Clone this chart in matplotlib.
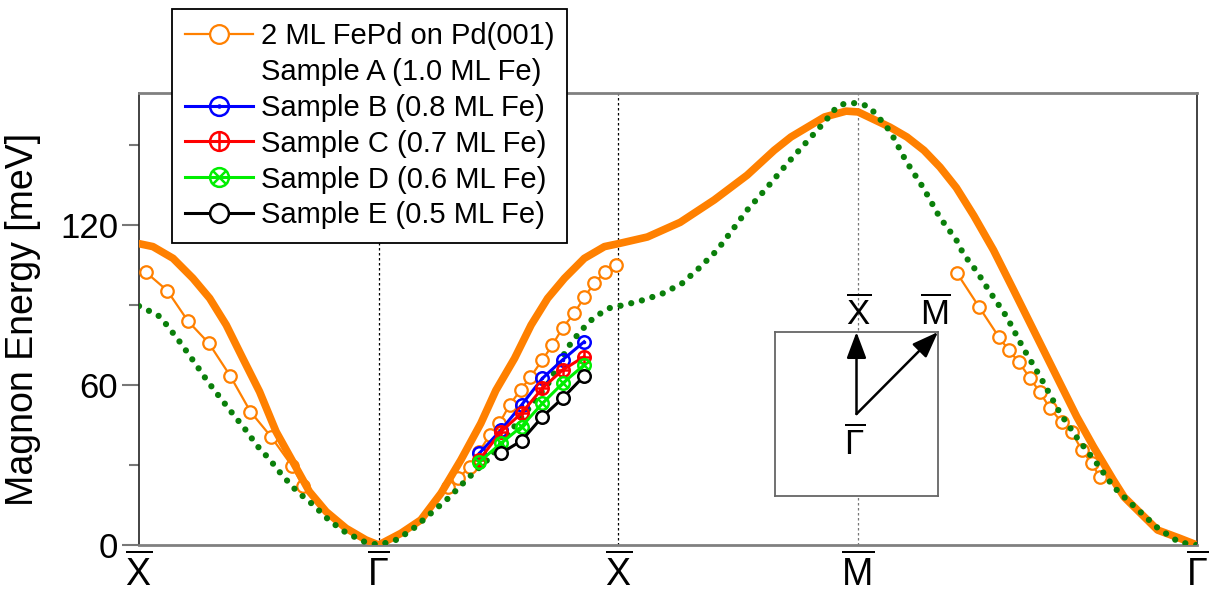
import numpy as np
import matplotlib.pyplot as plt
from matplotlib.lines import Line2D
from matplotlib.legend_handler import HandlerTuple

plt.rcParams['font.family'] = ['Liberation Sans', 'DejaVu Sans']
plt.rcParams['mathtext.fontset'] = 'custom'
plt.rcParams['mathtext.rm'] = 'Liberation Sans'
plt.rcParams['mathtext.it'] = 'Liberation Sans:italic'

# path X - Gamma - X - M - Gamma (distance in units of Gamma-X)
sym_pos = [-1, 0, 1, 2, 2 + np.sqrt(2)]
sym_labels = [r'$\overline{\mathrm{X}}$', r'$\overline{\mathrm{\Gamma}}$',
              r'$\overline{\mathrm{X}}$', r'$\overline{\mathrm{M}}$',
              r'$\overline{\mathrm{\Gamma}}$']

# theory, thick orange line
theo_k = [-1.0, -0.942, -0.858, -0.775, -0.705, -0.636, -0.567, -0.497, -0.428,
          -0.358, -0.289, -0.219, -0.136, -0.053, 0.0,
          0.093, 0.176, 0.26, 0.343, 0.426, 0.489, 0.567, 0.636, 0.705, 0.775,
          0.858, 0.942, 1.0,
          1.121, 1.258, 1.4, 1.5375, 1.65, 1.72, 1.86, 1.95, 2.0,
          2.133, 2.204, 2.275, 2.342, 2.41, 2.483, 2.565, 2.649, 2.746, 2.843,
          2.9125, 2.982, 3.065, 3.11, 3.25, 3.34, 3.414]
theo_E = [113.0, 111.9, 107.5, 100.0, 92.5, 82.5, 70.0, 57.5, 42.5,
          31.2, 20.0, 12.5, 6.25, 1.9, 0.0,
          4.4, 9.4, 19.4, 31.9, 45.6, 58.0, 70.0, 82.5, 92.5, 100.0,
          107.5, 111.9, 113.0,
          115.5, 121.0, 129.4, 138.7, 148.0, 153.0, 160.5, 162.7, 162.4,
          156.7, 153.0, 148.0, 141.7, 134.0, 123.5, 110.6, 95.6, 78.1, 60.6,
          48.1, 36.9, 24.4, 18.0, 5.6, 2.6, 0.0]

# second calculation, green dotted line
calc_k = [-1.0, -0.921, -0.886, -0.8375, -0.81, -0.761, -0.7125, -0.661, -0.608,
          -0.557, -0.507, -0.455, -0.403, -0.342, -0.275, -0.205, -0.136, -0.06, 0.0,
          0.079, 0.149, 0.218, 0.295, 0.371, 0.455, 0.507, 0.557, 0.608, 0.661,
          0.7125, 0.7875, 0.84, 0.9, 0.967, 1.025,
          1.11, 1.19, 1.267, 1.3375, 1.4125, 1.483, 1.5375, 1.62, 1.704, 1.86,
          1.9125, 1.95, 2.0, 2.045, 2.08, 2.135, 2.2, 2.274, 2.34, 2.41, 2.44,
          2.496, 2.545, 2.62, 2.69, 2.76, 2.843, 2.92, 2.996, 3.065, 3.11, 3.25,
          3.34, 3.414]
calc_E = [89.6, 86.2, 82.7, 77.1, 73.7, 67.5, 61.2, 55.2, 49.1,
          43.4, 37.2, 32.1, 26.2, 20.2, 15.2, 9.1, 4.6, 1.25, 0.0,
          2.1, 6.5, 11.9, 17.9, 24.9, 32.0, 37.5, 43.4, 49.1, 55.2,
          61.2, 73.9, 80.0, 85.5, 89.0, 90.0,
          92.0, 94.5, 98.2, 103.9, 110.6, 119.0, 125.6, 134.0, 143.0, 158.6,
          164.4, 165.7, 165.7, 164.4, 161.0, 155.0, 144.0, 133.7, 123.0, 114.4, 109.1,
          102.5, 95.6, 85.6, 73.7, 63.1, 49.4, 39.4, 30.6, 21.9, 18.0, 6.4,
          1.0, 0.0]

# 2 ML FePd on Pd(001), measured
fepd_k1 = [-0.970, -0.882, -0.796, -0.708, -0.620, -0.535, -0.449, -0.361, -0.317]
fepd_E1 = [102.2, 95.4, 84.0, 75.6, 63.5, 50.0, 40.6, 29.6, 22.2]
fepd_k2 = [0.2875, 0.333, 0.379, 0.42, 0.4625, 0.504, 0.546, 0.592, 0.633, 0.683,
           0.725, 0.767, 0.817, 0.858, 0.9, 0.946, 0.992]
fepd_E2 = [21.7, 25.0, 29.3, 35.0, 41.2, 45.7, 52.5, 58.1, 63.0, 69.4,
           75.0, 81.4, 87.0, 93.0, 98.2, 102.4, 105.0]
fepd_k3 = [2.4125, 2.504, 2.5875, 2.629, 2.671, 2.717, 2.758, 2.8, 2.85, 2.892,
           2.933, 2.975, 3.008]
fepd_E3 = [102.0, 89.4, 78.0, 73.0, 68.6, 62.6, 57.4, 51.4, 46.0, 42.4,
           35.6, 30.7, 25.5]

# samples B-E along Gamma-X
samp_k = [0.42, 0.51, 0.596, 0.683, 0.767, 0.857]
samp_B = [34.4, 43.1, 52.5, 62.5, 69.4, 76.2]
samp_C = [31.9, 42.5, 49.4, 58.8, 65.6, 70.6]
samp_D = [31.2, 38.1, 44.4, 53.1, 60.6, 67.5]
samp_E_k = [0.51, 0.596, 0.683, 0.767, 0.857]
samp_E = [34.4, 39.1, 48.1, 55.0, 63.4]

orange = '#ff8000'
ms = 9
fig = plt.figure(figsize=(12.11, 5.95), dpi=100)
ax = fig.add_axes([139 / 1211, 1 - 545 / 595, 1058 / 1211, 452 / 595])

for p, c in zip(sym_pos[1:4], ['k', 'k', '#777777']):
    ax.axvline(p, color=c, ls=(0, (2, 2)), lw=0.9, zorder=1)

# measured FePd
fepd_h = None
for k, E in [(fepd_k1, fepd_E1), (fepd_k2, fepd_E2), (fepd_k3, fepd_E3)]:
    fepd_h, = ax.plot(k, E, '-o', color=orange, lw=1.6, ms=ms, mfc='white',
                      mec=orange, mew=1.6, zorder=3)

ax.plot(theo_k, theo_E, '-', color=orange, lw=5.5, zorder=4,
        solid_capstyle='round', solid_joinstyle='round')
ax.plot(calc_k, calc_E, color='#0a7f0a', lw=4.5, ls=(0, (0.01, 1.75)),
        dash_capstyle='round', zorder=5)

hB, = ax.plot(samp_k, samp_B, '-o', color='#0000ff', lw=2.2, ms=ms, mfc='none', mew=1.8, zorder=6)
hB2, = ax.plot(samp_k, samp_B, ls='none', marker='.', color='#0000ff', ms=3, zorder=6)
hC, = ax.plot(samp_k, samp_C, '-o', color='#ff0000', lw=2.2, ms=ms, mfc='none', mew=1.8, zorder=7)
hC2, = ax.plot(samp_k, samp_C, ls='none', marker='+', color='#ff0000', ms=ms, mew=1.8, zorder=7)
hD, = ax.plot(samp_k, samp_D, '-o', color='#00ee00', lw=2.2, ms=ms, mfc='none', mew=1.8, zorder=8)
hD2, = ax.plot(samp_k, samp_D, ls='none', marker='x', color='#00ee00', ms=ms * 0.75, mew=1.8, zorder=8)
hE, = ax.plot(samp_E_k, samp_E, '-o', color='k', lw=2.2, ms=ms, mfc='white', mew=1.8, zorder=9)
hA = Line2D([], [], ls='none', marker='none')

ax.set_xlim(sym_pos[0], sym_pos[-1])
ax.set_ylim(0, 169.5)
ax.set_xticks(sym_pos, sym_labels)
ax.set_yticks([0, 60, 120])
ax.set_yticks([30, 90, 150], minor=True)
ax.tick_params(axis='x', length=0, labelsize=27, pad=6)
ax.tick_params(axis='y', which='major', direction='out', length=12, width=1.5,
               color='#777777', labelsize=25, pad=3)
ax.tick_params(axis='y', which='minor', direction='out', length=7, width=1.5,
               color='#777777')
ax.set_ylabel('Magnon Energy [meV]', fontsize=27, labelpad=14)
for s in ['top', 'bottom']:
    ax.spines[s].set_color('#808080')
    ax.spines[s].set_linewidth(2)
for s in ['left', 'right']:
    ax.spines[s].set_color('#222222')
    ax.spines[s].set_linewidth(1.2)

leg = ax.legend([fepd_h, hA, (hB, hB2), (hC, hC2), (hD, hD2), hE],
                ['2 ML FePd on Pd(001)', 'Sample A (1.0 ML Fe)', 'Sample B (0.8 ML Fe)',
                 'Sample C (0.7 ML Fe)', 'Sample D (0.6 ML Fe)', 'Sample E (0.5 ML Fe)'],
                handler_map={tuple: HandlerTuple(ndivide=1, pad=0)},
                loc='upper left', bbox_to_anchor=(0.031, 1.186), borderaxespad=0,
                fontsize=21, handlelength=2.35, handletextpad=0.25, labelspacing=0.27,
                borderpad=0.45, markerscale=1.5, fancybox=False, framealpha=1,
                edgecolor='k')
leg.get_frame().set_linewidth(1.3)
leg.set_zorder(20)

# surface Brillouin zone sketch
ax_in = fig.add_axes([775 / 1211, 1 - 496 / 595, 163 / 1211, 164 / 595])
ax_in.set_xlim(-1, 1)
ax_in.set_ylim(-1, 1)
ax_in.set_xticks([])
ax_in.set_yticks([])
for s in ax_in.spines.values():
    s.set_color('#666666')
    s.set_linewidth(1.3)
arrow = dict(arrowstyle='-|>,head_length=0.8,head_width=0.3', color='k', lw=1.8,
             shrinkA=0, shrinkB=0, mutation_scale=20)
ax_in.annotate('', xy=(0, 1), xytext=(0, 0), arrowprops=arrow)
ax_in.annotate('', xy=(1, 1), xytext=(0, 0), arrowprops=arrow)
ax_in.text(0.03, 1.22, r'$\overline{\mathrm{X}}$', ha='center', va='center', fontsize=25)
ax_in.text(0.97, 1.22, r'$\overline{\mathrm{M}}$', ha='center', va='center', fontsize=25)
ax_in.text(-0.02, -0.36, r'$\overline{\mathrm{\Gamma}}$', ha='center', va='center', fontsize=25)

fig.savefig('out.png', dpi=100)
